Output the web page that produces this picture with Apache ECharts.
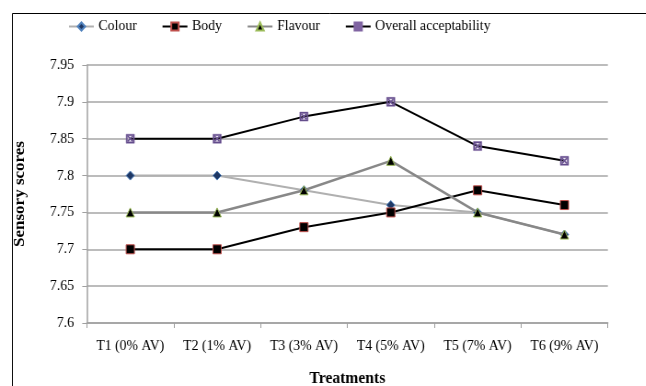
<!DOCTYPE html>
<html>
<head>
<meta charset="utf-8">
<script src="https://cdn.jsdelivr.net/npm/echarts@6/dist/echarts.min.js"></script>
<style>
  html, body { margin: 0; padding: 0; background: #fff; overflow: hidden; width: 646px; height: 386px; }
  /* the chart is laid out on a wider canvas and squeezed horizontally */
  #chart { width: 702px; height: 386px; transform: scaleX(0.92); transform-origin: 0 0; }
</style>
</head>
<body>
<div id="chart"></div>
<script>
// Treatments (level of AV added)
var categories = ['T1 (0% AV)', 'T2 (1% AV)', 'T3 (3% AV)', 'T4 (5% AV)', 'T5 (7% AV)', 'T6 (9% AV)'];

// Mean sensory scores per attribute
var colour  = [7.80, 7.80, 7.78, 7.76, 7.75, 7.72];
var body    = [7.70, 7.70, 7.73, 7.75, 7.78, 7.76];
var flavour = [7.75, 7.75, 7.78, 7.82, 7.75, 7.72];
var overall = [7.85, 7.85, 7.88, 7.90, 7.84, 7.82];

var yMin = 7.6, yMax = 7.95, yStep = 0.05;

// Square marker with a cross inside
var crossSquare = 'path://M0,0L10,0L10,10L0,10Z M1.6,1.6L1.6,8.4L8.4,8.4L8.4,1.6Z ' +
  'M1.6,2.6L2.6,1.6L8.4,7.4L7.4,8.4Z M7.4,1.6L8.4,2.6L2.6,8.4L1.6,7.4Z';

var serif = '"Liberation Serif", "Times New Roman", serif';

var chart = echarts.init(document.getElementById('chart'), null, { renderer: 'canvas', width: 702, height: 386 });

chart.setOption({
  animation: false,
  backgroundColor: '#fff',
  textStyle: { fontFamily: serif, color: '#000' },
  graphic: [{
    type: 'rect',
    shape: { x: 13.5, y: 13.5, width: 800, height: 500 },
    style: { fill: 'none', stroke: '#000', lineWidth: 1 },
    silent: true,
    z: -1
  }],
  legend: {
    top: 14,
    left: 69,
    itemWidth: 27,
    itemHeight: 10,
    itemGap: 27,
    textStyle: { fontFamily: serif, fontSize: 15, color: '#000' },
    data: ['Colour', 'Body', 'Flavour', 'Overall acceptability']
  },
  grid: {
    left: 94.4, right: 41.3, top: 65, bottom: 63,
    // keep the plot rectangle fixed; labels may sit outside it
    outerBoundsMode: 'none',
    containLabel: false
  },
  xAxis: {
    type: 'category',
    data: categories,
    boundaryGap: true,
    name: 'Treatments',
    nameLocation: 'middle',
    nameGap: 47,
    nameTextStyle: { fontFamily: serif, fontSize: 17, fontWeight: 'bold', color: '#000' },
    axisLine: { lineStyle: { color: '#A0A0A0', width: 1.5 } },
    axisTick: { show: true, alignWithLabel: false, length: 5, lineStyle: { color: '#A0A0A0' } },
    axisLabel: { fontFamily: serif, fontSize: 15, color: '#000', margin: 16, interval: 0 }
  },
  yAxis: {
    type: 'value',
    min: yMin,
    max: yMax,
    interval: yStep,
    name: 'Sensory scores',
    nameLocation: 'middle',
    nameGap: 64,
    nameTextStyle: { fontFamily: serif, fontSize: 17, fontWeight: 'bold', color: '#000' },
    axisLine: { show: true, lineStyle: { color: '#A0A0A0', width: 1.5 } },
    axisTick: { show: true, length: 5, lineStyle: { color: '#A0A0A0' } },
    axisLabel: {
      fontFamily: serif, fontSize: 15, color: '#000', margin: 14,
      formatter: function (v) { return String(parseFloat(v.toFixed(2))); }
    },
    splitLine: { show: true, lineStyle: { color: '#A6A6A6', width: 1.5 } }
  },
  series: [
    {
      name: 'Colour',
      type: 'line',
      data: colour,
      symbol: 'diamond',
      symbolSize: 9,
      lineStyle: { color: '#B0B0B0', width: 2 },
      itemStyle: { color: '#1F3864', borderColor: '#4F81BD', borderWidth: 1 },
      z: 2
    },
    {
      name: 'Body',
      type: 'line',
      data: body,
      symbol: 'rect',
      symbolSize: 9,
      lineStyle: { color: '#000', width: 2 },
      itemStyle: { color: '#000', borderColor: '#C0504D', borderWidth: 1 },
      z: 3
    },
    {
      name: 'Flavour',
      type: 'line',
      data: flavour,
      symbol: 'triangle',
      symbolSize: 9,
      lineStyle: { color: '#888888', width: 2.5 },
      itemStyle: { color: '#000', borderColor: '#9BBB59', borderWidth: 1 },
      z: 4
    },
    {
      name: 'Overall acceptability',
      type: 'line',
      data: overall,
      symbol: crossSquare,
      symbolSize: 9,
      lineStyle: { color: '#000', width: 2 },
      itemStyle: { color: '#5A4785', borderColor: '#8064A2', borderWidth: 0.5 },
      z: 5
    }
  ]
});
</script>
</body>
</html>
